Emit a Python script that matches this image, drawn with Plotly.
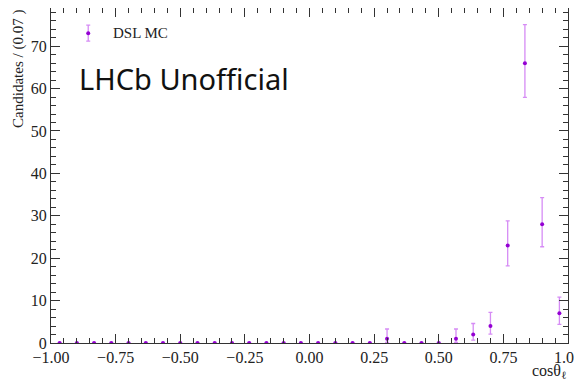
import plotly.graph_objects as go

# bin centres (30 bins from -1 to 1)
x_centers = [-0.9667, -0.9, -0.8333, -0.7667, -0.7, -0.6333, -0.5667, -0.5, -0.4333, -0.3667,
             -0.3, -0.2333, -0.1667, -0.1, -0.0333, 0.0333, 0.1, 0.1667, 0.2333, 0.3,
             0.3667, 0.4333, 0.5, 0.5667, 0.6333, 0.7, 0.7667, 0.8333, 0.9, 0.9667]
counts = [0, 0, 0, 0, 0, 0, 0, 0, 0, 0,
          0, 0, 0, 0, 0, 0, 0, 0, 0, 1,
          0, 0, 0, 1, 2, 4, 23, 66, 28, 7]
err_up = [0, 0, 0, 0, 0, 0, 0, 0, 0, 0,
          0, 0, 0, 0, 0, 0, 0, 0, 0, 2.3,
          0, 0, 0, 2.3, 2.6, 3.2, 5.8, 9.1, 6.3, 3.8]
err_down = [0, 0, 0, 0, 0, 0, 0, 0, 0, 0,
            0, 0, 0, 0, 0, 0, 0, 0, 0, 0.83,
            0, 0, 0, 0.83, 1.3, 1.9, 4.8, 8.1, 5.3, 2.6]

x_ticks = [-1.0, -0.75, -0.5, -0.25, 0.0, 0.25, 0.5, 0.75, 1.0]
x_ticklabels = ["\u22121.00", "\u22120.75", "\u22120.50", "\u22120.25", "0.00", "0.25", "0.50", "0.75", "1.00"]
y_ticks = [0, 10, 20, 30, 40, 50, 60, 70]

marker_col = "#9400D3"
err_col = "#D68CF5"
serif = "Liberation Serif"

fig = go.Figure()
fig.add_trace(go.Scatter(
    x=x_centers, y=counts, mode="markers",
    marker=dict(color=marker_col, size=4),
    error_y=dict(type="data", symmetric=False, array=err_up, arrayminus=err_down,
                 color=err_col, thickness=1.3, width=2),
    showlegend=False, cliponaxis=True,
))
# legend entry drawn as a point in paper-like coords
fig.add_trace(go.Scatter(
    x=[0.072], y=[0.925], xaxis="x2", yaxis="y2", mode="markers",
    marker=dict(color=marker_col, size=4),
    error_y=dict(type="constant", value=0.024, color=err_col, thickness=1.3, width=2),
    showlegend=False,
))

axis_common = dict(showline=True, linecolor="#333", linewidth=1, mirror="allticks",
                   ticks="inside", tickcolor="#333", showgrid=False, zeroline=False,
                   automargin=False,
                   tickfont=dict(family=serif, size=16, color="#222"))

# the page body has an 8px margin, so the figure is sized to fill the rest
fig.update_layout(
    width=574, height=373,
    margin=dict(l=43, r=14, t=0, b=38),
    plot_bgcolor="white", paper_bgcolor="white",
    xaxis=dict(range=[-1, 1], tickvals=x_ticks, ticktext=x_ticklabels, ticklen=9,
               minor=dict(dtick=0.05, ticklen=5, ticks="inside", tickcolor="#333"),
               **axis_common),
    yaxis=dict(range=[0, 79], tickvals=y_ticks, ticklen=9,
               minor=dict(dtick=2, ticklen=5, ticks="inside", tickcolor="#333"),
               **axis_common),
    xaxis2=dict(range=[0, 1], overlaying="x", visible=False),
    yaxis2=dict(range=[0, 1], overlaying="y", visible=False),
    annotations=[
        dict(text="DSL MC", x=0.117, y=0.925, xref="paper", yref="paper",
             xanchor="left", yanchor="middle", showarrow=False,
             font=dict(family=serif, size=15, color="#222")),
        dict(text="LHCb Unofficial", x=0.05, y=0.79, xref="paper", yref="paper",
             xanchor="left", yanchor="middle", showarrow=False,
             font=dict(family="Noto Sans", size=29, color="#111")),
        dict(text="Candidates / (0.07 )", x=-0.064, y=1.0, xref="paper", yref="paper",
             xanchor="center", yanchor="top", showarrow=False, textangle=-90,
             font=dict(family=serif, size=15, color="#222")),
        dict(text="cos\u03b8<sub>\u2113</sub>", x=1.0, y=-0.05, xref="paper", yref="paper",
             xanchor="right", yanchor="top", showarrow=False,
             font=dict(family=serif, size=16, color="#222")),
    ],
)

fig.write_html("out.html")
